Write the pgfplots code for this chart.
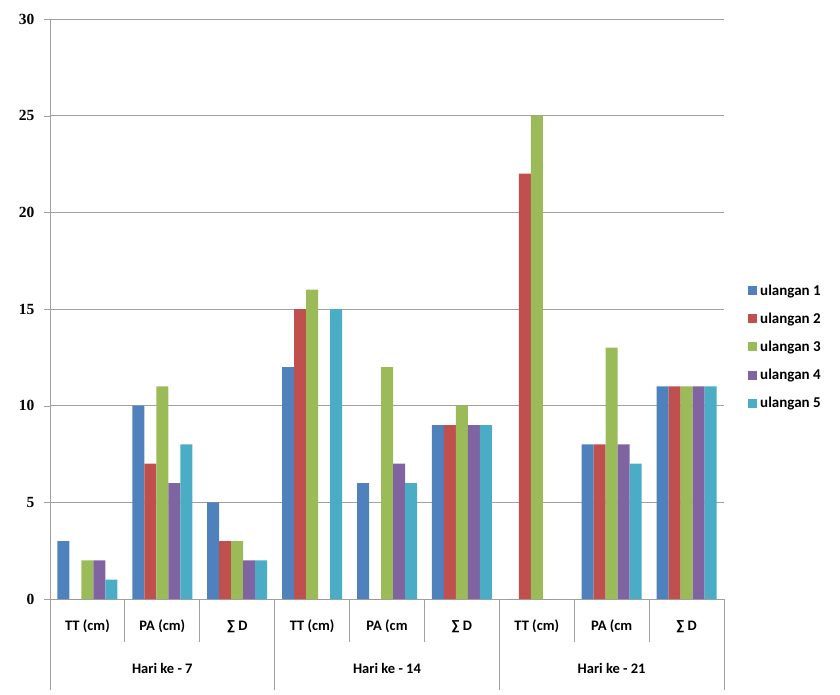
\documentclass[border=0pt]{standalone}
\usepackage{pgfplots}
\pgfplotsset{compat=1.18}
\usepackage{fontspec}
\setmainfont{Carlito}
\newfontfamily\serifnum{Liberation Serif}
\definecolor{c1}{HTML}{4F81BD}
\definecolor{c2}{HTML}{C0504D}
\definecolor{c3}{HTML}{9BBB59}
\definecolor{c4}{HTML}{8064A2}
\definecolor{c5}{HTML}{4BACC6}
\definecolor{gl}{HTML}{A0A0A0}
\begin{document}
\begin{tikzpicture}
\begin{axis}[
  at={(0pt,0pt)}, anchor=south west,
  scale only axis, width=674pt, height=580pt,
  ymin=0, ymax=30, xmin=-0.5, xmax=8.5,
  ytick={0,5,...,30},
  xtick={0,...,8},
  xticklabels={TT (cm),PA (cm),∑ D,TT (cm),PA (cm,∑ D,TT (cm),PA (cm,∑ D},
  xticklabel style={font=\fontsize{14.5}{16}\selectfont\bfseries, anchor=base, yshift=-25pt},
  major x tick style={draw=none},
  ytick style={gl},
  tick align=outside, major tick length=6pt,
  yticklabel style={font=\fontsize{15.5}{17}\selectfont\serifnum\bfseries, xshift=-6pt},
  /pgf/number format/assume math mode=true,
  ymajorgrids, grid style={gl, line width=0.8pt},
  axis x line*=bottom, axis y line*=left,
  axis line style={gl, line width=0.8pt, -},
  ybar=0pt, bar width=12pt,
  clip=false,
  legend style={at={(1.0356,0.4345)}, anchor=west, draw=none, fill=none,
    font=\fontsize{15}{17}\selectfont\bfseries, row sep=12pt, inner sep=0pt,
    nodes={inner xsep=3pt}, legend cell align=left},
  legend image code/.code={\fill[#1] (0pt,-4.5pt) rectangle (9pt,4.5pt);},
]
\addplot[fill=c1, draw=none] coordinates {(0,3) (1,10) (2,5) (3,12) (4,6) (5,9) (6,0) (7,8) (8,11)};
\addplot[fill=c2, draw=none] coordinates {(0,0) (1,7) (2,3) (3,15) (4,0) (5,9) (6,22) (7,8) (8,11)};
\addplot[fill=c3, draw=none] coordinates {(0,2) (1,11) (2,3) (3,16) (4,12) (5,10) (6,25) (7,13) (8,11)};
\addplot[fill=c4, draw=none] coordinates {(0,2) (1,6) (2,2) (3,0) (4,7) (5,9) (6,0) (7,8) (8,11)};
\addplot[fill=c5, draw=none] coordinates {(0,1) (1,8) (2,2) (3,15) (4,6) (5,9) (6,0) (7,7) (8,11)};
\legend{ulangan 1,ulangan 2,ulangan 3,ulangan 4,ulangan 5}
\draw[gl, line width=0.8pt] (axis cs:0.5,0) -- ([yshift=-43pt]axis cs:0.5,0);
\draw[gl, line width=0.8pt] (axis cs:1.5,0) -- ([yshift=-43pt]axis cs:1.5,0);
\draw[gl, line width=0.8pt] (axis cs:3.5,0) -- ([yshift=-43pt]axis cs:3.5,0);
\draw[gl, line width=0.8pt] (axis cs:4.5,0) -- ([yshift=-43pt]axis cs:4.5,0);
\draw[gl, line width=0.8pt] (axis cs:6.5,0) -- ([yshift=-43pt]axis cs:6.5,0);
\draw[gl, line width=0.8pt] (axis cs:7.5,0) -- ([yshift=-43pt]axis cs:7.5,0);
\draw[gl, line width=0.8pt] (axis cs:-0.5,0) -- ([yshift=-91pt]axis cs:-0.5,0);
\draw[gl, line width=0.8pt] (axis cs:2.5,0) -- ([yshift=-91pt]axis cs:2.5,0);
\draw[gl, line width=0.8pt] (axis cs:5.5,0) -- ([yshift=-91pt]axis cs:5.5,0);
\draw[gl, line width=0.8pt] (axis cs:8.5,0) -- ([yshift=-91pt]axis cs:8.5,0);
\node[font=\fontsize{14.5}{16}\selectfont\bfseries, anchor=base] at ([yshift=-74pt]axis cs:1,0) {Hari ke - 7};
\node[font=\fontsize{14.5}{16}\selectfont\bfseries, anchor=base] at ([yshift=-74pt]axis cs:4,0) {Hari ke - 14};
\node[font=\fontsize{14.5}{16}\selectfont\bfseries, anchor=base] at ([yshift=-74pt]axis cs:7,0) {Hari ke - 21};
\end{axis}
\pgfresetboundingbox
\path[use as bounding box] (-50pt,-95pt) rectangle (790pt,599pt);
\end{tikzpicture}
\end{document}
